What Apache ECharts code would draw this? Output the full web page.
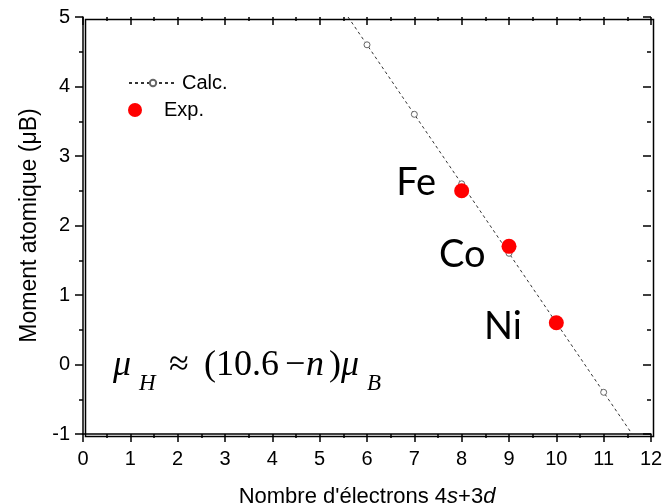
<!DOCTYPE html>
<html><head><meta charset="utf-8">
<script src="https://cdn.jsdelivr.net/npm/echarts@6/dist/echarts.min.js"></script>
<style>html,body{margin:0;padding:0;background:#fff}#c{width:663px;height:503px}</style>
</head><body><div id="c"></div>
<script>
// ---- data ----
const calcX = [6, 7, 8, 9, 10, 11];
const calcY = [4.6, 3.6, 2.6, 1.6, 0.6, -0.4];
const calcLineEndsX = [5.6, 11.6];   // where the dashed guide line meets the frame
const calcLineEndsY = [5, -1];
const expX = [8, 9, 10];
const expY = [2.5, 1.7, 0.6];
const expNames = ['Fe', 'Co', 'Ni'];
const xTicks = [0, 1, 2, 3, 4, 5, 6, 7, 8, 9, 10, 11, 12];
const yTicks = [-1, 0, 1, 2, 3, 4, 5];
const seriesNames = ['Calc.', 'Exp.'];

// ---- layout only ----
const GRID = { left: 83, right: 12, top: 17, bottom: 69 };
const W = 663, H = 503;
const labelOffsets = [[-13, -8], [-11, 8], [-22, 4]];

const calcData = [];
calcData.push({ value: [calcLineEndsX[0], calcLineEndsY[0]], symbol: 'none' });
calcX.forEach((x, i) => calcData.push([x, calcY[i]]));
calcData.push({ value: [calcLineEndsX[1], calcLineEndsY[1]], symbol: 'none' });

const expData = expX.map((x, i) => ({
  name: expNames[i],
  value: [x, expY[i]],
  label: { offset: labelOffsets[i] }
}));

const SANS = '"Liberation Sans", Arial, sans-serif';
const SERIF = '"Liberation Serif", "Times New Roman", serif';
const TW = 1.5;
const CLEAR = 'rgba(0,0,0,0)';

const xMain = {
  type: 'value', position: 'bottom', min: xTicks[0], max: xTicks[xTicks.length - 1], interval: 1,
  axisLine: { show: true, onZero: false, lineStyle: { color: '#000', width: TW } },
  axisTick: { show: true, inside: false, length: 8, lineStyle: { color: '#000', width: TW } },
  minorTick: { show: false },
  splitLine: { show: false },
  axisLabel: { show: true, fontFamily: SANS, fontSize: 20, color: '#000', margin: 15 },
  name: '{a|Nombre d\'électrons 4}{b|s}{a|+3}{b|d}',
  nameLocation: 'middle', nameGap: 52,
  nameTextStyle: {
    rich: {
      a: { fontFamily: SANS, fontSize: 22, color: '#000' },
      b: { fontFamily: SANS, fontSize: 22, color: '#000', fontStyle: 'italic' }
    }
  }
};
const yMain = {
  type: 'value', position: 'left', min: yTicks[0], max: yTicks[yTicks.length - 1], interval: 1,
  axisLine: { show: true, onZero: false, lineStyle: { color: '#000', width: TW } },
  axisTick: { show: true, inside: false, length: 8, lineStyle: { color: '#000', width: TW } },
  minorTick: { show: false },
  splitLine: { show: false },
  axisLabel: { show: true, fontFamily: SANS, fontSize: 20, color: '#000', margin: 13 },
  name: 'Moment atomique (μB)',
  nameLocation: 'middle', nameGap: 42,
  nameTextStyle: { fontFamily: SANS, fontSize: 23, color: '#000' }
};
// tick-only axes: minor ticks outside, and the frame's inward ticks (negative offset)
function tickAxis(ticks, interval, len, offset, pos) {
  return {
    type: 'value', position: pos, offset: offset,
    min: ticks[0], max: ticks[ticks.length - 1], interval: interval,
    axisLine: { show: true, onZero: false, lineStyle: { color: CLEAR, width: TW } },
    axisTick: { show: true, inside: false, length: len, lineStyle: { color: '#000', width: TW } },
    minorTick: { show: false },
    splitLine: { show: false },
    axisLabel: { show: false }
  };
}

const chart = echarts.init(document.getElementById('c'), null, { renderer: 'canvas' });

function eq(text, x, baseline, size, italic) {
  return {
    type: 'text', left: x, top: baseline - size * 0.78,
    style: { text: text, fontFamily: SERIF, fontSize: size, fontStyle: italic ? 'italic' : 'normal', fill: '#000' }
  };
}

chart.setOption({
  backgroundColor: '#fff',
  animation: false,
  grid: { left: GRID.left, right: GRID.right, top: GRID.top, bottom: GRID.bottom,
          containLabel: false, outerBoundsMode: 'none' },
  xAxis: [
    xMain,
    tickAxis(xTicks, 0.5, 4, 0, 'bottom'),
    tickAxis(xTicks, 1, 8, -8, 'top'),
    tickAxis(xTicks, 0.5, 4, -4, 'top')
  ],
  yAxis: [
    yMain,
    tickAxis(yTicks, 0.5, 4, 0, 'left'),
    tickAxis(yTicks, 1, 8, -8, 'right'),
    tickAxis(yTicks, 0.5, 4, -4, 'right')
  ],
  legend: [
    {
      data: [seriesNames[0]], orient: 'vertical', left: 123, top: 68,
      itemWidth: 48, itemHeight: 8,
      textStyle: { fontFamily: SANS, fontSize: 20, color: '#000' }
    },
    {
      data: [seriesNames[1]], orient: 'vertical', left: 123, top: 95,
      itemWidth: 48, itemHeight: 14,
      textStyle: { fontFamily: SANS, fontSize: 20, color: '#000' }
    }
  ],
  series: [
    {
      name: seriesNames[0], type: 'line', data: calcData,
      xAxisIndex: 0, yAxisIndex: 0,
      symbol: 'circle', symbolSize: 6,
      itemStyle: { color: '#fff', borderColor: '#666', borderWidth: 1 },
      lineStyle: { color: '#333', width: 1, type: [3, 3] },
      z: 2
    },
    {
      name: seriesNames[1], type: 'scatter', data: expData,
      xAxisIndex: 0, yAxisIndex: 0,
      symbol: 'circle', symbolSize: 15,
      itemStyle: { color: '#ff0000', opacity: 1 },
      label: {
        show: true, position: 'left', distance: 5, formatter: '{b}',
        fontFamily: 'Lato, "Noto Sans", sans-serif', fontSize: 38, color: '#000'
      },
      z: 3
    }
  ],
  graphic: [
    {
      type: 'rect', left: GRID.left, top: GRID.top, z: 10, silent: true,
      shape: { width: W - GRID.left - GRID.right, height: H - GRID.top - GRID.bottom },
      style: { fill: null, stroke: '#000', lineWidth: TW }
    },
    eq('μ', 113, 376, 36, true),
    eq('H', 139, 390, 23, true),
    eq('≈', 169, 376, 36, false),
    eq('(10.6', 204, 376, 36, false),
    eq('−', 285, 376, 36, false),
    eq('n', 306, 376, 36, true),
    eq(')', 329, 376, 36, false),
    eq('μ', 341, 376, 36, true),
    eq('B', 367, 390, 23, true)
  ]
});
</script>
</body></html>
